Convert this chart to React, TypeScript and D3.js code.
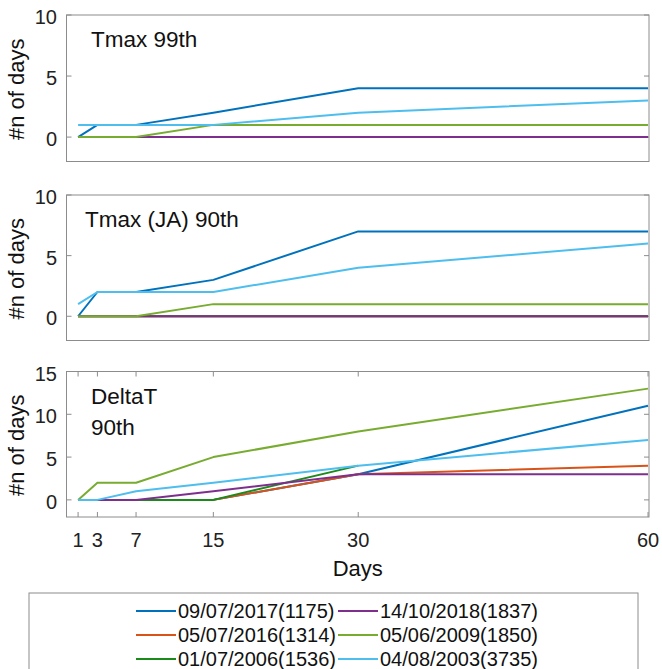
import React from "react";
import * as d3 from "d3";

const days = [1, 3, 7, 15, 30, 60];

// series in plot order (later ones drawn on top)
const seriesNames = [
  "09/07/2017(1175)",
  "05/07/2016(1314)",
  "01/07/2006(1536)",
  "14/10/2018(1837)",
  "05/06/2009(1850)",
  "04/08/2003(3735)",
];
const seriesColors = ["#0072BD", "#D95319", "#1a8a1a", "#7E2F8E", "#77AC30", "#4DBEEE"];

const tmax99 = [
  [0, 1, 1, 2, 4, 4],
  [0, 0, 0, 0, 0, 0],
  [0, 0, 0, 0, 0, 0],
  [0, 0, 0, 0, 0, 0],
  [0, 0, 0, 1, 1, 1],
  [1, 1, 1, 1, 2, 3],
];
const tmaxJA90 = [
  [0, 2, 2, 3, 7, 7],
  [0, 0, 0, 0, 0, 0],
  [0, 0, 0, 0, 0, 0],
  [0, 0, 0, 0, 0, 0],
  [0, 0, 0, 1, 1, 1],
  [1, 2, 2, 2, 4, 6],
];
const deltaT90 = [
  [0, 0, 0, 0, 3, 11],
  [0, 0, 0, 0, 3, 4],
  [0, 0, 0, 0, 4],
  [0, 0, 0, 1, 3, 3],
  [0, 2, 2, 5, 8, 13],
  [0, 0, 1, 2, 4, 7],
];

// legend layout: row-major, 2 columns
const legendOrder = [0, 3, 1, 4, 2, 5];

const font = "Liberation Sans, Arial, sans-serif";
const axisColor = "#8c8c8c";

const left = 66.5;
const right = 649;

const panels = [
  { title: ["Tmax 99th"], tx: 91, data: tmax99, top: 15, bottom: 161.5, yMax: 10, yTicks: [0, 5, 10], xTicks: false },
  { title: ["Tmax (JA) 90th"], tx: 85, data: tmaxJA90, top: 195, bottom: 340.5, yMax: 10, yTicks: [0, 5, 10], xTicks: false },
  { title: ["DeltaT", "90th"], tx: 91, data: deltaT90, top: 371.5, bottom: 517, yMax: 15, yTicks: [0, 5, 10, 15], xTicks: true },
];

const Panel = ({ p }: { p: (typeof panels)[number] }) => {
  const x = d3.scaleLinear().domain([-0.2, 60.1]).range([left, right]);
  const y = d3.scaleLinear().domain([-2, p.yMax]).range([p.bottom, p.top]);
  const line = d3
    .line<number>()
    .x((_, i) => x(days[i]))
    .y((d) => y(d));
  const midY = (p.top + p.bottom) / 2;
  return (
    <g>
      <rect x={left} y={p.top} width={right - left} height={p.bottom - p.top} fill="#fff" stroke={axisColor} strokeWidth={1} />
      {p.yTicks.map((t) => (
        <g key={t}>
          <line x1={left} x2={left + 5} y1={y(t)} y2={y(t)} stroke={axisColor} />
          <line x1={right - 5} x2={right} y1={y(t)} y2={y(t)} stroke={axisColor} />
          <text x={57} y={y(t)} dy="0.45em" textAnchor="end" fontSize={20} fontFamily={font} fill="#222">
            {t}
          </text>
        </g>
      ))}
      {p.xTicks &&
        days.map((d) => (
          <g key={d}>
            <line x1={x(d)} x2={x(d)} y1={p.bottom} y2={p.bottom - 5} stroke={axisColor} />
            <line x1={x(d)} x2={x(d)} y1={p.top} y2={p.top + 5} stroke={axisColor} />
            <text x={x(d)} y={547} textAnchor="middle" fontSize={20} fontFamily={font} fill="#222">
              {d}
            </text>
          </g>
        ))}
      {p.data.map((s, i) => (
        <path key={i} d={line(s) || ""} fill="none" stroke={seriesColors[i]} strokeWidth={2} strokeLinejoin="round" />
      ))}
      {p.title.map((t, i) => (
        <text key={i} x={p.tx} y={p.top + 32 + i * 31} fontSize={22.5} fontFamily={font} fill="#111">
          {t}
        </text>
      ))}
      <text transform={`translate(24,${midY + 1}) rotate(-90)`} textAnchor="middle" fontSize={22} fontFamily={font} fill="#111">
        #n of days
      </text>
    </g>
  );
};

const App = () => {
  const width = 662;
  const height = 669;
  const legendRows = d3.range(3);
  return (
    <svg width={width} height={height} style={{ position: "absolute", left: 0, top: 0, background: "#fff" }}>
      {panels.map((p, i) => (
        <Panel key={i} p={p} />
      ))}
      <text x={(left + right) / 2} y={576} textAnchor="middle" fontSize={22} fontFamily={font} fill="#111">
        Days
      </text>
      <rect x={29} y={593} width={609} height={100} fill="#fff" stroke={axisColor} />
      {legendRows.map((r) =>
        [0, 1].map((c) => {
          const idx = legendOrder[r * 2 + c];
          const lx = c === 0 ? 136 : 338;
          const ly = 611 + r * 24;
          return (
            <g key={`${r}-${c}`}>
              <line x1={lx} x2={lx + 40} y1={ly} y2={ly} stroke={seriesColors[idx]} strokeWidth={2} />
              <text x={lx + 42} y={ly} dy="0.36em" fontSize={20} fontFamily={font} fill="#111">
                {seriesNames[idx]}
              </text>
            </g>
          );
        })
      )}
    </svg>
  );
};

export default App;
